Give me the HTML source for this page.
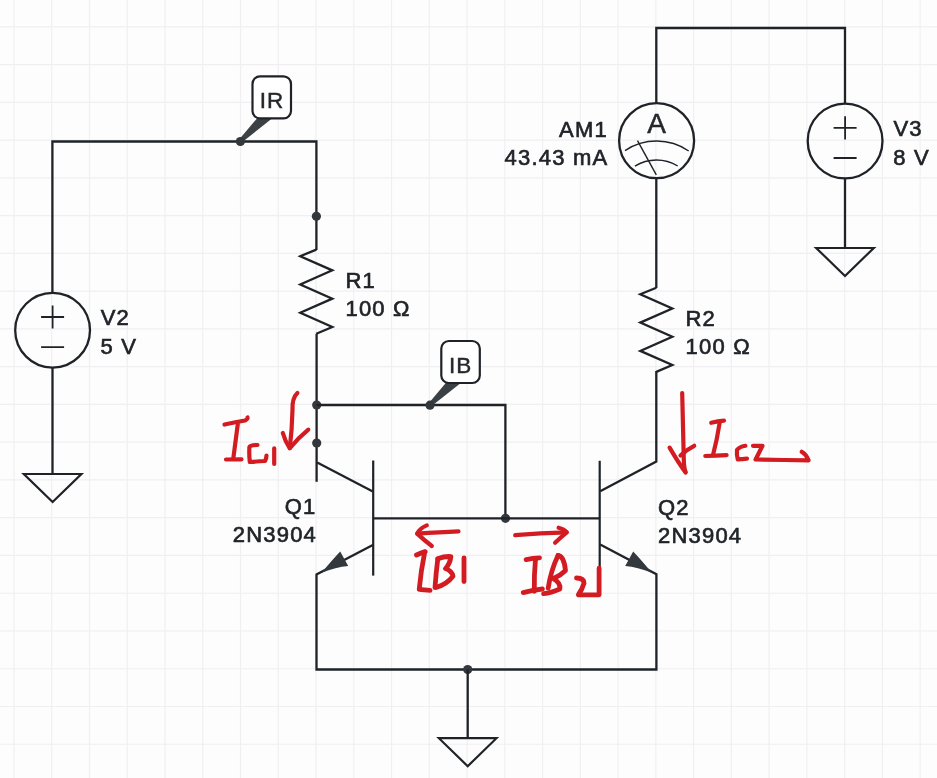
<!DOCTYPE html>
<html><head><meta charset="utf-8"><style>
html,body{margin:0;padding:0;background:#fdfdfe;width:937px;height:778px;overflow:hidden}
svg{display:block;will-change:transform}
text{font-family:"Liberation Sans",sans-serif}
</style></head><body>
<svg width="937" height="778" viewBox="0 0 937 778">
<rect width="937" height="778" fill="#fdfdfe"/>
<path d="M14.00 0V778 M51.76 0V778 M89.51 0V778 M127.27 0V778 M165.02 0V778 M202.78 0V778 M240.53 0V778 M278.29 0V778 M316.04 0V778 M353.80 0V778 M391.55 0V778 M429.31 0V778 M467.06 0V778 M504.82 0V778 M542.57 0V778 M580.33 0V778 M618.08 0V778 M655.84 0V778 M693.59 0V778 M731.35 0V778 M769.10 0V778 M806.86 0V778 M844.61 0V778 M882.37 0V778 M920.12 0V778 M0 26.90H937 M0 64.66H937 M0 102.41H937 M0 140.17H937 M0 177.92H937 M0 215.68H937 M0 253.43H937 M0 291.19H937 M0 328.94H937 M0 366.69H937 M0 404.45H937 M0 442.20H937 M0 479.96H937 M0 517.72H937 M0 555.47H937 M0 593.23H937 M0 630.98H937 M0 668.74H937 M0 706.49H937 M0 744.25H937" stroke="#f0f0f2" stroke-width="1.2" fill="none"/>
<path d="M52.4 293.4 L52.4 141.5 L316.4 141.5 L316.4 250" stroke="#1f2327" stroke-width="2.3" fill="none" stroke-linejoin="miter" stroke-linecap="butt"/>
<path d="M52.5 367.2 L52.5 474" stroke="#1f2327" stroke-width="2.3" fill="none" stroke-linejoin="miter" stroke-linecap="butt"/>
<path d="M23.8 474 H81.4 L52.6 502 Z" stroke="#1f2327" stroke-width="2.2" fill="none" stroke-linejoin="miter"/>
<circle cx="52.6" cy="330.2" r="37.4" stroke="#1f2327" stroke-width="2.3" fill="none"/>
<path d="M41.1 317.0H64.1M52.6 305.4V328.59999999999997M41.1 347.2H64.1" stroke="#1f2327" stroke-width="1.8" fill="none"/>
<path d="M316.3 249.6 L300.3 256.2 L332.3 270.34999999999997 L300.3 284.49999999999994 L332.3 298.6499999999999 L300.3 312.7999999999999 L332.3 326.9499999999999 L316.3 333.8" stroke="#1f2327" stroke-width="2.3" fill="none" stroke-linejoin="miter" stroke-linecap="butt"/>
<path d="M316.6 333.8 L316.6 481.8" stroke="#1f2327" stroke-width="2.3" fill="none" stroke-linejoin="miter" stroke-linecap="butt"/>
<circle cx="316.4" cy="216.3" r="4.6" fill="#33383d"/>
<circle cx="316.7" cy="405.0" r="4.6" fill="#33383d"/>
<circle cx="316.7" cy="443.0" r="4.6" fill="#33383d"/>
<path d="M316.7 405.0 L505.4 405.0 L505.4 518.3" stroke="#1f2327" stroke-width="2.3" fill="none" stroke-linejoin="miter" stroke-linecap="butt"/>
<circle cx="505.5" cy="518.3" r="4.6" fill="#33383d"/>
<path d="M373.2 518.3 L599.7 518.3" stroke="#1f2327" stroke-width="2.3" fill="none" stroke-linejoin="miter" stroke-linecap="butt"/>
<path d="M373.2 460.5 L373.2 575.6" stroke="#1f2327" stroke-width="2.2" fill="none" stroke-linejoin="miter" stroke-linecap="butt"/>
<path d="M317.2 462.6 L372.8 491.6" stroke="#1f2327" stroke-width="2.3" fill="none" stroke-linejoin="miter" stroke-linecap="butt"/>
<path d="M372.8 545.0 L316.5 574.5 L316.5 669.5 L656.4 669.5 L656.4 574.3 L600.2 544.5" stroke="#1f2327" stroke-width="2.3" fill="none" stroke-linejoin="miter" stroke-linecap="butt"/>
<circle cx="467.7" cy="669.5" r="4.6" fill="#33383d"/>
<path d="M467.7 669.5 L467.7 738" stroke="#1f2327" stroke-width="2.3" fill="none" stroke-linejoin="miter" stroke-linecap="butt"/>
<path d="M438.9 738.2 H496.5 L467.7 766.2 Z" stroke="#1f2327" stroke-width="2.2" fill="none" stroke-linejoin="miter"/>
<path d="M340.2 551.4 L348.2 566.0 Q336 567 321.5 572.8 Q332 560 340.2 551.4 Z" fill="#33383d"/>
<path d="M599.7 460.8 L599.7 575.6" stroke="#1f2327" stroke-width="2.2" fill="none" stroke-linejoin="miter" stroke-linecap="butt"/>
<path d="M600.2 491.3 L656.3 461.6 L656.3 371" stroke="#1f2327" stroke-width="2.3" fill="none" stroke-linejoin="miter" stroke-linecap="butt"/>
<path d="M633.2 551.4 L625.2 566.0 Q637.4 567 651.9 572.8 Q641.4 560 633.2 551.4 Z" fill="#33383d"/>
<path d="M656.3 287.7 L640.3 294.3 L672.3 308.45 L640.3 322.59999999999997 L672.3 336.74999999999994 L640.3 350.8999999999999 L672.3 365.0499999999999 L656.3 371.9" stroke="#1f2327" stroke-width="2.3" fill="none" stroke-linejoin="miter" stroke-linecap="butt"/>
<path d="M656.3 288 L656.3 178.5" stroke="#1f2327" stroke-width="2.3" fill="none" stroke-linejoin="miter" stroke-linecap="butt"/>
<circle cx="656.6" cy="140.7" r="37.5" stroke="#1f2327" stroke-width="2.3" fill="none"/>
<path d="M656.3 103.4 L656.3 28.0 L845.0 28.0 L845.0 103.4" stroke="#1f2327" stroke-width="2.3" fill="none" stroke-linejoin="miter" stroke-linecap="butt"/>
<path d="M625 150.6 A57 57 0 0 1 688.7 151" stroke="#1f2327" stroke-width="1.4" fill="none"/>
<path d="M634.9 166.2 A40.5 40.5 0 0 1 677.7 166" stroke="#1f2327" stroke-width="1.4" fill="none"/>
<path d="M637.5 140.6 L656.3 174.8" stroke="#1f2327" stroke-width="1.4" fill="none"/>
<text x="656.6" y="133.3" font-size="28" text-anchor="middle" fill="#24282c" stroke="#24282c" stroke-width="0.5">A</text>
<circle cx="845.1" cy="141.0" r="37.4" stroke="#1f2327" stroke-width="2.3" fill="none"/>
<path d="M833.6 127.8H856.6M845.1 116.2V139.4M833.6 158.0H856.6" stroke="#1f2327" stroke-width="1.8" fill="none"/>
<path d="M845.0 177.8 L845.0 248" stroke="#1f2327" stroke-width="2.3" fill="none" stroke-linejoin="miter" stroke-linecap="butt"/>
<path d="M816.2 248 H873.8 L845.0 276 Z" stroke="#1f2327" stroke-width="2.2" fill="none" stroke-linejoin="miter"/>
<path d="M257.0 118.4 L272.0 118.4 L242.4 142.0 L238.9 139.7 Z" fill="#3a4044"/>
<circle cx="240.4" cy="141.5" r="4.6" fill="#33383d"/>
<rect x="252.5" y="76.4" width="38.5" height="42" rx="7.5" fill="#fff" stroke="#1f2327" stroke-width="2.2"/>
<text x="272" y="108.0" font-size="22.5" letter-spacing="1" text-anchor="middle" fill="#24282c" stroke="#24282c" stroke-width="0.45">IR</text>
<path d="M445.8 383.0 L460.8 383.0 L432.0 405.7 L428.5 403.4 Z" fill="#3a4044"/>
<circle cx="430.0" cy="405.2" r="4.6" fill="#33383d"/>
<rect x="441.3" y="341.0" width="38.5" height="42" rx="7.5" fill="#fff" stroke="#1f2327" stroke-width="2.2"/>
<text x="460.6" y="372.6" font-size="22.5" letter-spacing="1" text-anchor="middle" fill="#24282c" stroke="#24282c" stroke-width="0.45">IB</text>
<text x="345.5" y="287.5" font-size="22" letter-spacing="1.2" text-anchor="start" fill="#202428" stroke="#202428" stroke-width="0.65">R1</text>
<text x="345.5" y="315.7" font-size="22" letter-spacing="1.2" text-anchor="start" fill="#202428" stroke="#202428" stroke-width="0.65">100 Ω</text>
<text x="685.5" y="325.5" font-size="22" letter-spacing="1.2" text-anchor="start" fill="#202428" stroke="#202428" stroke-width="0.65">R2</text>
<text x="685.6" y="353.7" font-size="22" letter-spacing="1.2" text-anchor="start" fill="#202428" stroke="#202428" stroke-width="0.65">100 Ω</text>
<text x="100.7" y="325.2" font-size="22" letter-spacing="1.2" text-anchor="start" fill="#202428" stroke="#202428" stroke-width="0.65">V2</text>
<text x="100.5" y="353.6" font-size="22" letter-spacing="1.2" text-anchor="start" fill="#202428" stroke="#202428" stroke-width="0.65">5 V</text>
<text x="893.4" y="136.0" font-size="22" letter-spacing="1.2" text-anchor="start" fill="#202428" stroke="#202428" stroke-width="0.65">V3</text>
<text x="893.2" y="164.8" font-size="22" letter-spacing="1.2" text-anchor="start" fill="#202428" stroke="#202428" stroke-width="0.65">8 V</text>
<text x="607.9" y="137.0" font-size="22" letter-spacing="1.2" text-anchor="end" fill="#202428" stroke="#202428" stroke-width="0.65">AM1</text>
<text x="608.3" y="165.0" font-size="22" letter-spacing="1.2" text-anchor="end" fill="#202428" stroke="#202428" stroke-width="0.65">43.43 mA</text>
<text x="316.5" y="514.2" font-size="22" letter-spacing="1.2" text-anchor="end" fill="#202428" stroke="#202428" stroke-width="0.65">Q1</text>
<text x="317" y="542.4" font-size="22" letter-spacing="1.2" text-anchor="end" fill="#202428" stroke="#202428" stroke-width="0.65">2N3904</text>
<text x="658.0" y="514.6" font-size="22" letter-spacing="1.2" text-anchor="start" fill="#202428" stroke="#202428" stroke-width="0.65">Q2</text>
<text x="658.0" y="542.6" font-size="22" letter-spacing="1.2" text-anchor="start" fill="#202428" stroke="#202428" stroke-width="0.65">2N3904</text>
<path d="M224.5 424.5 Q236 422 245 420.5 Q248 419 247.5 417.5" stroke="#d21c22" stroke-width="4.2" fill="none" stroke-linecap="round" stroke-linejoin="round"/>
<path d="M237.8 424 Q235.5 442 233.3 458.5" stroke="#d21c22" stroke-width="4.2" fill="none" stroke-linecap="round" stroke-linejoin="round"/>
<path d="M226 459.5 L241.5 459.3" stroke="#d21c22" stroke-width="4.2" fill="none" stroke-linecap="round" stroke-linejoin="round"/>
<path d="M257.5 445 Q250 445 249.4 447 Q249 455 249.8 462 Q258 461.5 265 461 Q266.5 458 266.5 455.5" stroke="#d21c22" stroke-width="4.2" fill="none" stroke-linecap="round" stroke-linejoin="round"/>
<path d="M274.2 448.3 L274.2 464" stroke="#d21c22" stroke-width="4.2" fill="none" stroke-linecap="round" stroke-linejoin="round"/>
<path d="M297.4 393 Q292 398 292.5 410 Q292 430 289.8 448" stroke="#d21c22" stroke-width="4.2" fill="none" stroke-linecap="round" stroke-linejoin="round"/>
<path d="M282.8 433 Q285 441 289.8 448.3 Q298 438 308.3 429.6" stroke="#d21c22" stroke-width="4.2" fill="none" stroke-linecap="round" stroke-linejoin="round"/>
<path d="M682.2 393 Q683 430 683.8 460 Q684 468 685.6 472" stroke="#d21c22" stroke-width="4.2" fill="none" stroke-linecap="round" stroke-linejoin="round"/>
<path d="M669.6 447.6 Q678 462 685.6 472.5" stroke="#d21c22" stroke-width="4.2" fill="none" stroke-linecap="round" stroke-linejoin="round"/>
<path d="M694.2 445.8 Q686 450 680.5 455.5" stroke="#d21c22" stroke-width="4.2" fill="none" stroke-linecap="round" stroke-linejoin="round"/>
<path d="M711.2 422.8 Q718 421 724 420.6" stroke="#d21c22" stroke-width="4.2" fill="none" stroke-linecap="round" stroke-linejoin="round"/>
<path d="M719.8 422 Q717 440 713 455" stroke="#d21c22" stroke-width="4.2" fill="none" stroke-linecap="round" stroke-linejoin="round"/>
<path d="M705.3 456 Q716 455.5 726.6 455.1" stroke="#d21c22" stroke-width="4.2" fill="none" stroke-linecap="round" stroke-linejoin="round"/>
<path d="M745.4 445.8 Q739 447 737 450 Q736.5 455 737.8 459.4 Q742 459 747 458.6" stroke="#d21c22" stroke-width="4.2" fill="none" stroke-linecap="round" stroke-linejoin="round"/>
<path d="M753 445.8 L762.5 445.8 L755.6 459.5 Q780 460 808.6 460.3 Q806 454 801.8 451.8" stroke="#d21c22" stroke-width="4.2" fill="none" stroke-linecap="round" stroke-linejoin="round"/>
<path d="M458.5 531.3 Q440 532 417.2 533.6" stroke="#d21c22" stroke-width="4.2" fill="none" stroke-linecap="round" stroke-linejoin="round"/>
<path d="M426.8 525.4 Q420 528 417.2 533.6 Q424 540 431.8 546" stroke="#d21c22" stroke-width="4.2" fill="none" stroke-linecap="round" stroke-linejoin="round"/>
<path d="M416.5 555 Q421 553 425.2 551.6" stroke="#d21c22" stroke-width="4.8" fill="none" stroke-linecap="round" stroke-linejoin="round"/>
<path d="M424.7 552.2 Q421 570 419.2 589.4 Q424 590 430.1 590.4" stroke="#d21c22" stroke-width="4.8" fill="none" stroke-linecap="round" stroke-linejoin="round"/>
<path d="M437.8 558.8 Q436 573 435 587.6" stroke="#d21c22" stroke-width="4.8" fill="none" stroke-linecap="round" stroke-linejoin="round"/>
<path d="M437.8 558.8 Q445 556 450.9 556.6 Q450 564 445.4 568.6 Q452 571 453 576.2 Q447 584 436.7 587.2" stroke="#d21c22" stroke-width="4.8" fill="none" stroke-linecap="round" stroke-linejoin="round"/>
<path d="M464 557.8 L464 581.6" stroke="#d21c22" stroke-width="4.8" fill="none" stroke-linecap="round" stroke-linejoin="round"/>
<path d="M515.2 535.2 Q540 533 566.7 532.4" stroke="#d21c22" stroke-width="4.2" fill="none" stroke-linecap="round" stroke-linejoin="round"/>
<path d="M558.6 527.7 Q564 529 566.7 532.4 Q560 538 555.1 542.8" stroke="#d21c22" stroke-width="4.2" fill="none" stroke-linecap="round" stroke-linejoin="round"/>
<path d="M526.2 559.6 Q533 558 539.5 557.8" stroke="#d21c22" stroke-width="4.8" fill="none" stroke-linecap="round" stroke-linejoin="round"/>
<path d="M535.5 559 Q534 575 534.3 591.4" stroke="#d21c22" stroke-width="4.8" fill="none" stroke-linecap="round" stroke-linejoin="round"/>
<path d="M523.3 592.6 Q533 590 542.4 589" stroke="#d21c22" stroke-width="4.8" fill="none" stroke-linecap="round" stroke-linejoin="round"/>
<path d="M558 555.5 Q551 570 548.2 588" stroke="#d21c22" stroke-width="4.8" fill="none" stroke-linecap="round" stroke-linejoin="round"/>
<path d="M558 555.5 Q564 556 565.5 570.5 Q560 576 553.4 578.6 Q561 583 559.8 589 Q551 593 543.6 593.7" stroke="#d21c22" stroke-width="4.8" fill="none" stroke-linecap="round" stroke-linejoin="round"/>
<path d="M576.5 578 Q584 578 584 583.3 Q582 590 578.3 594.8 L599.1 594.8 L599.1 568.2" stroke="#d21c22" stroke-width="4.8" fill="none" stroke-linecap="round" stroke-linejoin="round"/>
</svg>
</body></html>
